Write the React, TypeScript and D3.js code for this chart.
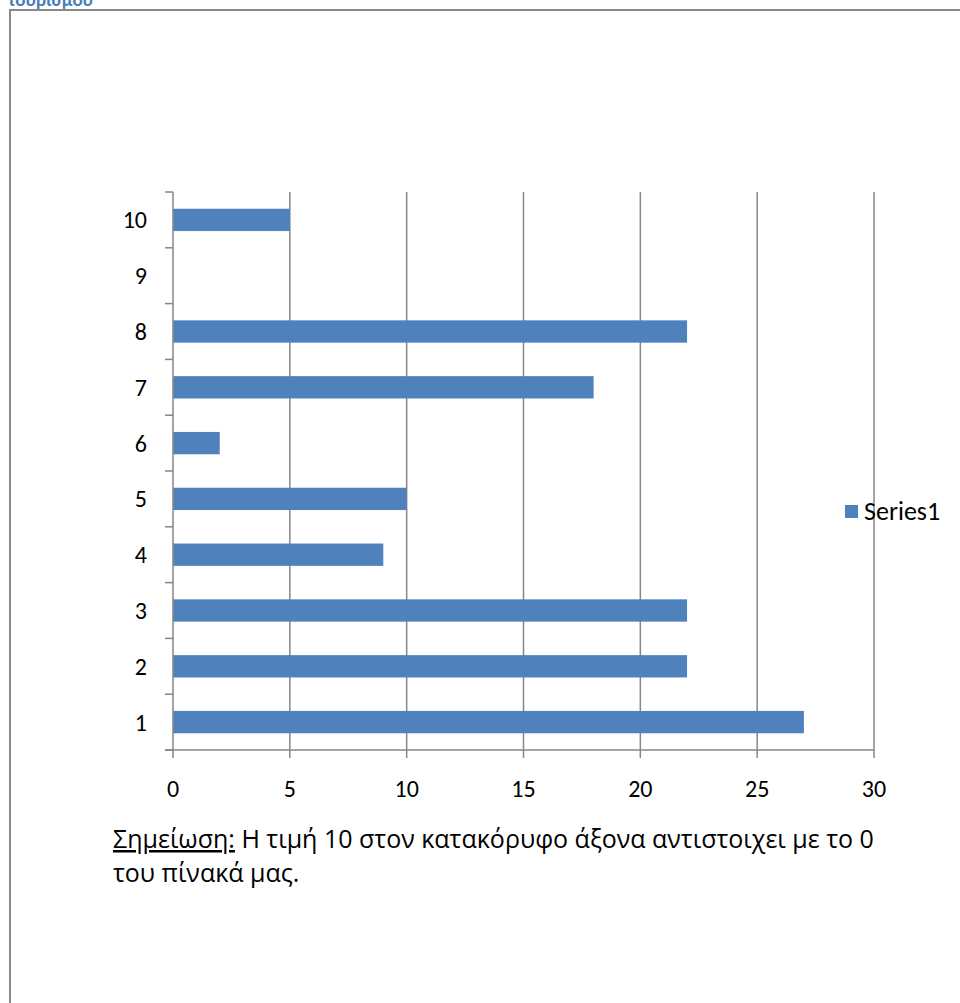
import React from "react";
import * as d3 from "d3";

const categories = ["1", "2", "3", "4", "5", "6", "7", "8", "9", "10"];
const series1 = [27, 22, 22, 9, 10, 2, 18, 22, 0, 5];
const xTicks = [0, 5, 10, 15, 20, 25, 30];
const seriesName = "Series1";
const noteUnderlined = "Σημείωση:";
const noteLine1 = " Η τιμή 10 στον κατακόρυφο άξονα αντιστοιχει με το 0";
const noteLine2 = "του πίνακά μας.";
const headingText = "τουρισμού";

const FONT = "Carlito, Calibri, Lato, 'Open Sans', sans-serif";
const NOTE_FONT = "'Open Sans', sans-serif";

export default function App() {
  const W = 960, H = 1003;
  const left = 173, right = 874, top = 192, bottom = 750;
  const x = d3.scaleLinear().domain([0, 30]).range([left, right]);
  const band = (bottom - top) / categories.length;
  const barH = band / 2.5;
  const catCenter = (i: number) => bottom - band * (i + 0.5);
  const grid = "#868686";
  const blue = "#4F81BD";
  return (
    <svg width={W} height={H} style={{ position: "absolute", left: 0, top: 0, background: "#fff" }}>
      <text x={8} y={6} fontFamily={FONT} fontSize={19} fontWeight="bold" fill="#4A7EBB">{headingText}</text>
      <rect x={10} y={10} width={1000} height={1100} fill="none" stroke="#8a8a8a" strokeWidth={2} />
      {xTicks.slice(1).map((t) => (
        <line key={"g" + t} x1={x(t)} x2={x(t)} y1={top} y2={bottom} stroke={grid} strokeWidth={1.5} />
      ))}
      {series1.map((v, i) => v > 0 ? (
        <rect key={"b" + i} x={x(0)} y={catCenter(i) - barH / 2} width={x(v) - x(0)} height={barH} fill={blue} />
      ) : null)}
      <line x1={left} x2={left} y1={top} y2={bottom} stroke={grid} strokeWidth={1.5} />
      <line x1={left - 8} x2={right} y1={bottom} y2={bottom} stroke={grid} strokeWidth={1.5} />
      {d3.range(categories.length + 1).map((k) => (
        <line key={"yt" + k} x1={left - 8} x2={left} y1={bottom - band * k} y2={bottom - band * k} stroke={grid} strokeWidth={1.5} />
      ))}
      {xTicks.map((t) => (
        <line key={"xt" + t} x1={x(t)} x2={x(t)} y1={bottom} y2={bottom + 8} stroke={grid} strokeWidth={1.5} />
      ))}
      {categories.map((c, i) => (
        <text key={"yl" + c} x={147} y={catCenter(i)} dy="0.35em" textAnchor="end" fontFamily={FONT} fontSize={24} fill="#000">{c}</text>
      ))}
      {xTicks.map((t) => (
        <text key={"xl" + t} x={x(t)} y={797} textAnchor="middle" fontFamily={FONT} fontSize={24} fill="#000">{t}</text>
      ))}
      <rect x={845} y={505} width={13} height={13} fill={blue} />
      <text x={864} y={520} fontFamily={FONT} fontSize={26} fill="#000">{seriesName}</text>
      <text x={113} y={848} fontFamily={NOTE_FONT} fontSize={25} fill="#000">
        <tspan textDecoration="underline">{noteUnderlined}</tspan>
        <tspan>{noteLine1}</tspan>
      </text>
      <text x={113} y={882} fontFamily={NOTE_FONT} fontSize={25} fill="#000">{noteLine2}</text>
    </svg>
  );
}
